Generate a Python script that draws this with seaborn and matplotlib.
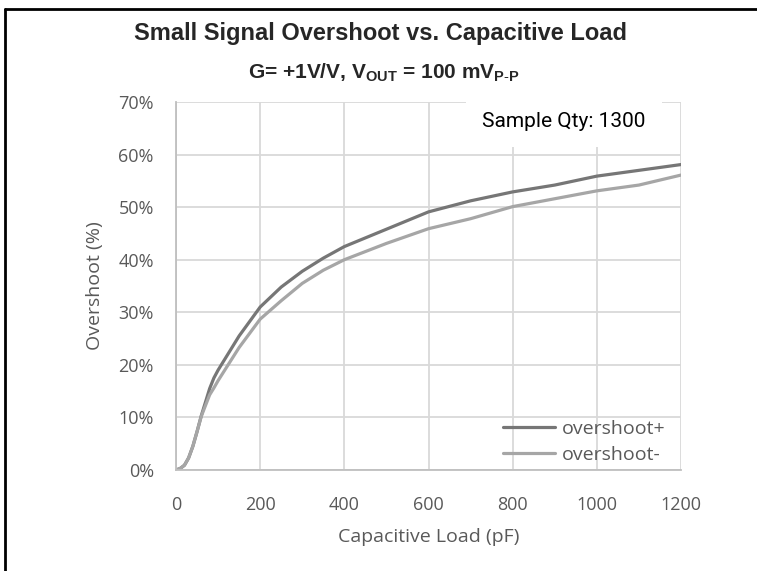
import numpy as np
import pandas as pd
import seaborn as sns
import matplotlib.pyplot as plt
from matplotlib.lines import Line2D
from matplotlib.ticker import PercentFormatter

cap_pf = [0, 10, 20, 30, 40, 50, 60, 80, 90, 100, 150, 200, 250, 300, 350, 400,
          500, 600, 700, 800, 900, 1000, 1100, 1200]
over_pos = [0, 0.3, 0.9, 2.3, 4.5, 7.3, 10.3, 15.5, 17.5, 19.0, 25.5, 31.0, 34.8,
            37.8, 40.3, 42.5, 45.8, 49.1, 51.2, 52.9, 54.2, 55.9, 57.0, 58.1]
over_neg = [0, 0.3, 0.9, 2.3, 4.5, 7.3, 10.2, 14.3, 15.6, 17.0, 23.3, 28.7, 32.2,
            35.5, 38.0, 40.0, 43.1, 45.9, 47.8, 50.1, 51.6, 53.1, 54.2, 56.1]
series = ['overshoot+', 'overshoot-']
colors = ['#767676', '#a6a6a6']

df = pd.concat([
    pd.DataFrame({'cap': cap_pf, 'over': over_pos, 'series': series[0]}),
    pd.DataFrame({'cap': cap_pf, 'over': over_neg, 'series': series[1]}),
])

sns.set_theme(style='white')
plt.rcParams['font.family'] = ['Open Sans', 'DejaVu Sans']
plt.rcParams['mathtext.fontset'] = 'custom'
plt.rcParams['mathtext.rm'] = 'Liberation Sans'
plt.rcParams['mathtext.bf'] = 'Liberation Sans:bold'

fig = plt.figure(figsize=(7.57, 5.71), dpi=100)
ax = fig.add_axes([176/757, 101/571, 505/757, 368/571])

sns.lineplot(data=df, x='cap', y='over', hue='series', palette=colors,
             linewidth=2.3, ax=ax)

gray = '#595959'
ax.set_xlim(0, 1200)
ax.set_ylim(0, 70)
ax.set_xticks(range(0, 1201, 200))
ax.set_yticks(range(0, 71, 10))
ax.yaxis.set_major_formatter(PercentFormatter(decimals=0))
ax.grid(True, color='#d9d9d9', linewidth=1.3)
for s in ['top', 'right']:
    ax.spines[s].set_visible(False)
for s in ['left', 'bottom']:
    ax.spines[s].set_color('#bfbfbf')
    ax.spines[s].set_linewidth(1.3)
ax.tick_params(axis='x', labelsize=13, colors=gray, length=0, pad=19)
ax.tick_params(axis='y', labelsize=13, colors=gray, length=0, pad=16)
ax.set_xlabel('Capacitive Load (pF)', fontsize=14, color=gray, labelpad=10)
ax.set_ylabel('Overshoot (%)', fontsize=14, color=gray, labelpad=10)

leg = ax.legend(loc='lower right', bbox_to_anchor=(0.985, -0.005), frameon=False,
                fontsize=14, handlelength=2.7, handletextpad=0.35,
                labelspacing=0.4, borderaxespad=0.0)
for t in leg.get_texts():
    t.set_color(gray)
for h in leg.get_lines():
    h.set_linewidth(2.3)

# white box behind the sample count
ax.text(0.93, 0.948, 'Sample Qty: 1300', transform=ax.transAxes, ha='right',
        va='center', fontsize=15, family='Roboto', color='black',
        bbox=dict(facecolor='white', edgecolor='none', pad=12), zorder=5)

fig.text(0.502, 0.942, 'Small Signal Overshoot vs. Capacitive Load',
         ha='center', va='center', fontsize=17, fontweight='bold',
         family='Liberation Sans')
fig.text(0.507, 0.872,
         r'G= +1V/V, V$_{\mathbf{OUT}}$ = 100 mV$_{\mathbf{P\text{-}P}}$',
         ha='center', va='center', fontsize=15, fontweight='bold',
         family='Liberation Sans')

fig.add_artist(Line2D([5/757, 1], [1 - 9/571, 1 - 9/571], transform=fig.transFigure,
                      color='black', linewidth=2))
fig.add_artist(Line2D([5/757, 5/757], [0, 1 - 9/571], transform=fig.transFigure,
                      color='black', linewidth=2))

fig.savefig('out.png', dpi=100)
